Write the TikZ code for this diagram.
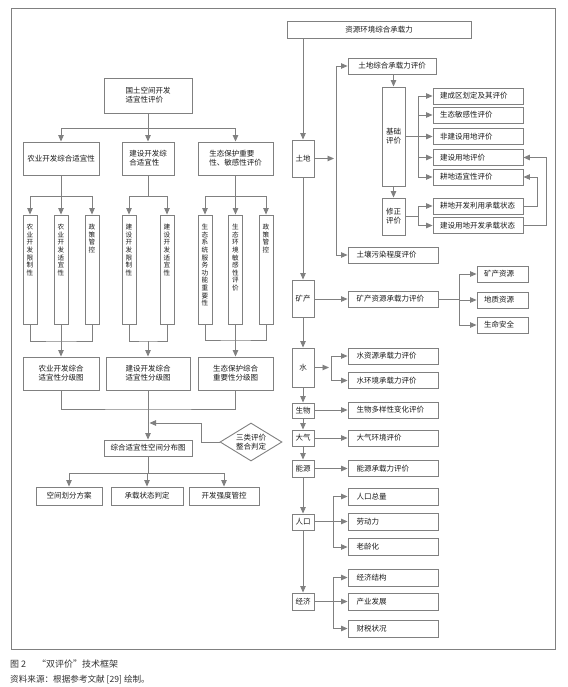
\documentclass[tikz,border=0pt]{standalone}
\usepackage{fontspec}
\setmainfont{Noto Sans CJK SC}
\usetikzlibrary{arrows.meta,shapes.geometric}
\definecolor{lgray}{HTML}{808080}
\definecolor{tx}{HTML}{1A1A1A}
\definecolor{capc}{HTML}{333333}
\begin{document}
\begin{tikzpicture}[x=1pt,y=-1pt,
  bx/.style={draw=lgray, line width=0.9pt, inner sep=0pt, text=tx, font=\fontsize{7.5}{8.8}\selectfont, align=center},
  sz/.style 2 args={minimum width=#1pt, minimum height=#2pt},
  rbox/.style={bx, minimum height=16pt, text width=73pt, inner xsep=8.5pt, align=left},
  bbox/.style={bx, minimum height=16pt, text width=76pt, inner xsep=7pt, align=left},
  mbox/.style={bx, minimum height=16pt, text width=37pt, inner xsep=7pt, align=left},
  sbox/.style={bx, minimum width=22pt},
  tall/.style={draw=lgray, line width=0.9pt, minimum width=14pt, minimum height=109pt, inner sep=0pt},
  vt/.style={text=tx, font=\fontsize{6.6}{7.6}\selectfont, align=center, anchor=north, inner sep=0pt},
  cn/.style={draw=lgray, line width=0.9pt},
  ar/.style={cn, -{Triangle[length=6.5pt,width=5.5pt]}, fill=none}
]
\useasboundingbox (0,0) rectangle (567,687);
\node[draw=lgray, line width=0.9pt, minimum width=544pt, minimum height=641pt, inner sep=0pt] (frame) at (283,328.5) {};

% ---------- left part ----------
\node[bx, sz={88}{35}, align=left] (gt) at (148,95.5) {国土空间开发\\适宜性评价};
\node[bx, sz={76}{33}] (ny) at (61,158.5) {农业开发综合适宜性};
\node[bx, sz={52}{33}, align=left] (js) at (148,158.5) {建设开发综\\合适宜性};
\node[bx, sz={75}{33}, align=left] (st) at (235.5,158.5) {生态保护重要\\性、敏感性评价};

\coordinate (gtf) at (148,128);
\draw[cn] (gt.south) -- (gtf);
\draw[ar] (gtf) -| (ny.north);
\draw[ar] (gtf) -- (js.north);
\draw[ar] (gtf) -| (st.north);

\node[tall] (v1) at (30,269.5) {};
\node[tall] (v2) at (61,269.5) {};
\node[tall] (v3) at (92,269.5) {};
\node[tall] (v4) at (129,269.5) {};
\node[tall] (v5) at (167,269.5) {};
\node[tall] (v6) at (205,269.5) {};
\node[tall] (v7) at (235.5,269.5) {};
\node[tall] (v8) at (266,269.5) {};
\node[vt] (v1t) at (30,224) {农\\业\\开\\发\\限\\制\\性};
\node[vt] (v2t) at (61,224) {农\\业\\开\\发\\适\\宜\\性};
\node[vt] (v3t) at (92,224) {政\\策\\管\\控};
\node[vt] (v4t) at (129,224) {建\\设\\开\\发\\限\\制\\性};
\node[vt] (v5t) at (167,224) {建\\设\\开\\发\\适\\宜\\性};
\node[vt] (v6t) at (205,224) {生\\态\\系\\统\\服\\务\\功\\能\\重\\要\\性};
\node[vt] (v7t) at (235.5,224) {生\\态\\环\\境\\敏\\感\\性\\评\\价};
\node[vt] (v8t) at (266,224) {政\\策\\管\\控};

\coordinate (nyf) at (61,196);
\draw[cn] (ny.south) -- (nyf);
\draw[ar] (nyf) -| (v1.north);
\draw[ar] (nyf) -- (v2.north);
\draw[ar] (nyf) -| (v3.north);
\coordinate (jsf) at (148,196);
\draw[cn] (js.south) -- (jsf);
\draw[ar] (jsf) -| (v4.north);
\draw[ar] (jsf) -| (v5.north);
\coordinate (stf) at (235.5,196);
\draw[cn] (st.south) -- (stf);
\draw[ar] (stf) -| (v6.north);
\draw[ar] (stf) -- (v7.north);
\draw[ar] (stf) -| (v8.north);

\node[bx, sz={76}{33}] (ag) at (61,373.5) {农业开发综合\\适宜性分级图};
\node[bx, sz={84}{33}] (jg) at (148,373.5) {建设开发综合\\适宜性分级图};
\node[bx, sz={75}{33}] (sg) at (235.5,373.5) {生态保护综合\\重要性分级图};

\coordinate (nyj) at (61,341);
\draw[cn] (v1.south) |- (nyj) -| (v3.south);
\draw[cn] (v2.south) -- (nyj);
\draw[ar] (nyj) -- (ag.north);
\coordinate (jsj) at (148,341);
\draw[cn] (v4.south) |- (jsj) -| (v5.south);
\draw[ar] (jsj) -- (jg.north);
\coordinate (stj) at (235.5,340);
\draw[cn] (v6.south) |- (stj) -| (v8.south);
\draw[cn] (v7.south) -- (stj);
\draw[ar] (stj) -- (sg.north);

\node[bx, sz={88}{16}] (zh) at (148,448) {综合适宜性空间分布图};
\node[bx, draw=lgray, diamond, aspect=1.63, minimum width=62pt, minimum height=38pt] (dm) at (251,442) {三类评价\\整合判定};

\coordinate (cj) at (148,409);
\draw[cn] (ag.south) |- (cj) -| (sg.south);
\draw[cn] (jg.south) -- (cj);
\draw[ar] (cj) -- (zh.north);
\coordinate (cjm) at (149.5,423);
\draw[ar] (dm.west) -- ++(-18,0) |- (cjm);

\node[bx, sz={66}{18}] (o1) at (69,496) {空间划分方案};
\node[bx, sz={72}{18}] (o2) at (147,496) {承载状态判定};
\node[bx, sz={70}{18}] (o3) at (224,496) {开发强度管控};
\coordinate (zhf) at (148,473);
\draw[cn] (zh.south) -- (zhf);
\draw[ar] (zhf) -| (o1.north);
\draw[ar] (zhf) -| (o2.north);
\draw[ar] (zhf) -| (o3.north);

% ---------- right part ----------
\node[bx, sz={184}{17}] (tp) at (379,29.5) {资源环境综合承载力};

\node[sbox, minimum height=37pt] (land) at (303,158.5) {土地};
\node[sbox, minimum height=37pt] (mine) at (303,298.5) {矿产};
\node[sbox, minimum height=39pt] (water) at (303,367.5) {水};
\node[sbox, minimum height=15pt] (bio) at (303,410.5) {生物};
\node[sbox, minimum height=16pt] (air) at (303,438) {大气};
\node[sbox, minimum height=17pt] (en) at (303,468.5) {能源};
\node[sbox, minimum height=16pt] (pop) at (303,522) {人口};
\node[sbox, minimum height=17pt] (eco) at (303,601.5) {经济};

\draw[ar] (land.north |- tp.south) -- (land.north);
\draw[ar] (land.south) -- (mine.north);
\draw[ar] (mine.south) -- (water.north);
\draw[ar] (water.south) -- (bio.north);
\draw[ar] (bio.south) -- (air.north);
\draw[ar] (air.south) -- (en.north);
\draw[ar] (en.south) -- (pop.north);
\draw[ar] (pop.south) -- (eco.north);

% land
\node[bx, sz={88}{16}] (ldz) at (392,66) {土地综合承载力评价};
\node[rbox] (tr) at (393,255) {土壤污染程度评价};
\coordinate (lvx) at (336,158.5);
\coordinate (lva) at (334,158.5);
\draw[ar] (land.east) -- (lva);
\draw[ar] (lvx) |- (ldz.west);
\draw[ar] (lvx) |- (tr.west);

\node[bx, sz={23}{99}] (jc) at (393.5,136.5) {基础\\评价};
\node[bx, sz={23}{37}] (xz) at (393.5,216.5) {修正\\评价};
\draw[ar] (jc.north |- ldz.south) -- (jc.north);
\draw[ar] (jc.south) -- (xz.north);

\node[bbox] (b1) at (478,96) {建成区划定及其评价};
\node[bbox] (b2) at (478,115) {生态敏感性评价};
\node[bbox] (b3) at (478,136.5) {非建设用地评价};
\node[bbox] (b4) at (478,157.5) {建设用地评价};
\node[bbox] (b5) at (478,177) {耕地适宜性评价};
\node[bbox] (b6) at (478,206) {耕地开发利用承载状态};
\node[bbox] (b7) at (478,225.5) {建设用地开发承载状态};

\coordinate (jcf) at (418,136.5);
\draw[cn] (jc.east |- jcf) -- (jcf);
\draw[ar] (jcf) |- (b1.west);
\draw[ar] (jcf) |- (b2.west);
\draw[ar] (jcf) -- (b3.west);
\draw[ar] (jcf) |- (b4.west);
\draw[ar] (jcf) |- (b5.west);
\coordinate (xzf) at (418,216.5);
\draw[cn] (xz.east) -- (xzf);
\draw[ar] (xzf) |- (b6.west);
\draw[ar] (xzf) |- (b7.west);
\draw[ar] (b6.east) -- ++(14,0) |- (b5.east);
\draw[ar] (b7.east) -- ++(23,0) |- (b4.east);

% mine
\node[rbox] (mz) at (393,299) {矿产资源承载力评价};
\draw[ar] (mine.east |- mz.west) -- (mz.west);
\node[mbox] (m1) at (502.5,274) {矿产资源};
\node[mbox] (m2) at (502.5,300) {地质资源};
\node[mbox] (m3) at (502.5,325) {生命安全};
\coordinate (mf) at (459,299);
\draw[cn] (mz.east) -- (mf);
\draw[ar] (mf) |- (m1.west);
\draw[ar] (mf) |- (m2.west);
\draw[ar] (mf) |- (m3.west);

% water
\node[rbox] (w1) at (393,356) {水资源承载力评价};
\node[rbox] (w2) at (393,380.5) {水环境承载力评价};
\coordinate (wf) at (331,367.5);
\coordinate (wa) at (329,367.5);
\draw[ar] (water.east) -- (wa);
\draw[ar] (wf) |- (w1.west);
\draw[ar] (wf) |- (w2.west);

% bio, air, energy
\node[rbox] (bz) at (393,410) {生物多样性变化评价};
\draw[ar] (bio.east |- bz.west) -- (bz.west);
\node[rbox] (az) at (393,438) {大气环境评价};
\draw[ar] (air.east) -- (az.west);
\node[rbox] (ez) at (393,468.5) {能源承载力评价};
\draw[ar] (en.east) -- (ez.west);

% population
\node[rbox, minimum height=17pt] (p1) at (393,496.5) {人口总量};
\node[rbox, minimum height=17pt] (p2) at (393,521.5) {劳动力};
\node[rbox, minimum height=17pt] (p3) at (393,547) {老龄化};
\coordinate (pf) at (333,521.5);
\draw[cn] (pop.east |- pf) -- (pf);
\draw[ar] (pf) |- (p1.west);
\draw[ar] (pf) -- (p2.west);
\draw[ar] (pf) |- (p3.west);

% economy
\node[rbox, minimum height=17pt] (e1) at (393,577.5) {经济结构};
\node[rbox, minimum height=17pt] (e2) at (393,601.5) {产业发展};
\node[rbox, minimum height=17pt] (e3) at (393,628.5) {财税状况};
\coordinate (ef) at (333,601.5);
\draw[cn] (eco.east) -- (ef);
\draw[ar] (ef) |- (e1.west);
\draw[ar] (ef) -- (e2.west);
\draw[ar] (ef) |- (e3.west);

% caption
\node[anchor=base west, inner sep=0pt, text=capc, font=\fontsize{9}{10}\selectfont] (cap1) at (10,667) {图 2\hspace{1.2em}“双评价”技术框架};
\node[anchor=base west, inner sep=0pt, text=capc, font=\fontsize{8.6}{10}\selectfont] (cap2) at (10,682) {资料来源：根据参考文献 [29] 绘制。};
\end{tikzpicture}
\end{document}
